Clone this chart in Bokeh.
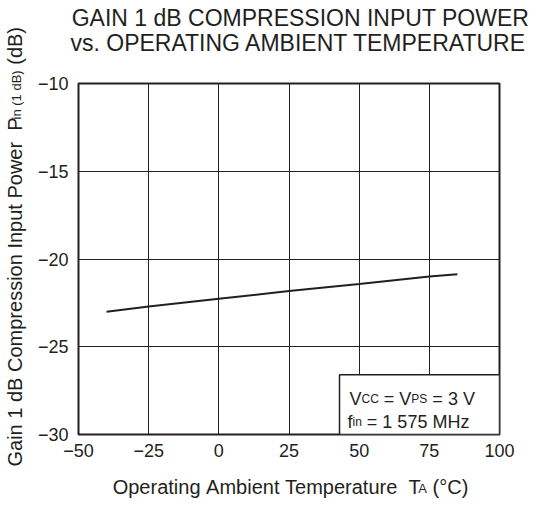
import math
from bokeh.plotting import figure
from bokeh.models import Range1d, Label, FixedTicker, Title
from bokeh.embed import file_html
from bokeh.resources import INLINE

# ---- data ----
temperature_c = [-40, -25, 0, 25, 50, 75, 85]
pin_1db_dbm = [-23.0, -22.7, -22.27, -21.83, -21.43, -21.0, -20.87]
x_ticks = [-50, -25, 0, 25, 50, 75, 100]
y_ticks = [-30, -25, -20, -15, -10]
cond_box_x = [43, 100]
cond_box_y = [-30, -26.6]

FONT = "Liberation Sans"
INK = "#231f20"
NB = "\u00a0"

FL, FR, FT, FB = 78, 499, 83, 434   # frame edges in page pixels
WIDTH, HEIGHT = 536, 506

p = figure(width=WIDTH, height=HEIGHT, output_backend="svg", toolbar_location=None,
           x_range=Range1d(-50, 100), y_range=Range1d(-30, -10),
           min_border_left=FL, min_border_right=WIDTH - FR,
           min_border_top=FT, min_border_bottom=HEIGHT - FB)
p.background_fill_color = "white"
p.border_fill_color = "white"
p.outline_line_color = INK
p.outline_line_width = 2

TICK = 18
for ax, ticks in ((p.xaxis, x_ticks), (p.yaxis, y_ticks)):
    ax.ticker = FixedTicker(ticks=ticks)
    ax.major_label_overrides = {t: str(t).replace("-", "\u2212") for t in ticks}
    ax.axis_line_color = None
    ax.major_tick_line_color = None
    ax.minor_tick_line_color = None
    ax.major_tick_in = 0
    ax.major_tick_out = 0
    ax.major_label_text_font = FONT
    ax.major_label_text_font_size = f"{TICK}px"
    ax.major_label_text_color = INK
p.xaxis.major_label_standoff = 9
p.yaxis.major_label_standoff = 10

p.xgrid.grid_line_color = INK
p.ygrid.grid_line_color = INK
p.xgrid.grid_line_width = 1
p.ygrid.grid_line_width = 1

p.line(temperature_c, pin_1db_dbm, line_width=2, color=INK)

p.quad(left=cond_box_x[0], right=cond_box_x[1], bottom=cond_box_y[0], top=cond_box_y[1],
       fill_color="white", line_color=INK, line_width=1.5)

# ---- text metrics (Arial / Liberation Sans advance widths) ----
W = {' ': 278, NB: 278, '(': 333, ')': 333, '.': 278, '=': 584, '\u2212': 584, '\u00b0': 400,
     'A': 667, 'B': 667, 'C': 722, 'E': 667, 'G': 778, 'H': 722, 'I': 278, 'M': 833,
     'N': 722, 'O': 778, 'P': 667, 'R': 722, 'S': 667, 'T': 611, 'U': 722, 'V': 667,
     'W': 944, 'a': 556, 'b': 556, 'c': 500, 'd': 556, 'e': 556, 'f': 278, 'g': 556,
     'i': 222, 'm': 833, 'n': 556, 'o': 556, 'p': 556, 'r': 333, 's': 500, 't': 278,
     'u': 556, 'v': 500, 'w': 722, 'z': 500, 'k': 500, 'l': 222, 'h': 556, 'y': 500}
for d in "0123456789":
    W[d] = 556


def tw(s, size):
    return sum(W.get(ch, 556) for ch in s) * size / 1000.0


def hgt(size):
    return 1.117 * size


def desc(size):
    return 0.212 * size


# ---- title (two lines in the top panel) ----
TSIZE = 23
t_center = 300
line2, line1 = "vs. OPERATING AMBIENT TEMPERATURE", "GAIN 1 dB COMPRESSION INPUT POWER"
base2, base1 = 51, 26
so2 = 2 * (FT - (base2 + desc(TSIZE)))
size2 = 2 + hgt(TSIZE) + so2
so1 = 2 * ((FT - size2) - (base1 + desc(TSIZE)))
for txt, so in ((line2, so2), (line1, so1)):
    p.add_layout(Title(text=txt, align="left", vertical_align="bottom",
                       offset=t_center - tw(txt, TSIZE) / 2 - FL, standoff=so,
                       text_font=FONT, text_font_size=f"{TSIZE}px",
                       text_font_style="normal", text_color=INK), "above")


# ---- side-panel text runs (zero-thickness titles placed side by side) ----
def spacer(side, thickness, along):
    # blank white dot that only reserves room between the axis and the label run
    p.add_layout(Title(text=".", align="left", vertical_align="bottom", offset=along,
                       standoff=thickness - 2 - hgt(TICK), text_font=FONT,
                       text_font_size=f"{TICK}px", text_color="white"), side)


def piece(side, text, size, start, drop=0.0):
    off = (start - FL) if side == "below" else (FB - start)
    p.add_layout(Title(text=text.replace(" ", NB), align="left", vertical_align="bottom",
                       offset=off, standoff=-(2 + hgt(size)) - 2 * drop,
                       text_font=FONT, text_font_size=f"{size}px",
                       text_font_style="normal", text_color=INK), side)


def text_run(side, pieces, start, sign, kern):
    # kern: correction for the browser's kerning inside the first (long) piece
    big = max(sz for _, sz in pieces)
    pos = start
    placed = []
    for i, (s, sz) in enumerate(pieces):
        placed.append((s, sz, pos))
        pos += sign * (tw(s, sz) + (kern if i == 0 else 0.0))
    # big pieces first, subscript pieces last (their extra drop must not move others)
    for s, sz, at in sorted(placed, key=lambda t: -t[1]):
        piece(side, s, sz, at, drop=0.3465 * (big - sz) + 0.3)


LAB, SUB = 20, 13

# x axis label, below the tick labels
spacer("below", 33, -74)
xl = [("Operating Ambient Temperature  T", LAB), ("A", SUB), (" (\u00b0C)", LAB)]
xtotal = sum(tw(s, z) for s, z in xl) - 4.5
text_run("below", xl, 290 - xtotal / 2, +1, -4.5)

# y axis label, left of the tick labels
spacer("left", 28, -60)
yl = [("Gain 1 dB Compression Input Power  P", LAB), ("in (1 dB)", SUB), (" (dB)", LAB)]
text_run("left", yl, 466, -1, -2.0)


# ---- condition box text (inside the frame) ----
def lab(text, xpage, ypage, size):
    p.add_layout(Label(x=xpage - FL, y=FB - ypage, x_units="screen", y_units="screen",
                       text=text.replace(" ", NB), text_font=FONT, text_font_size=f"{size}px",
                       text_color=INK, text_align="left", text_baseline="alphabetic"))


def run_h(pieces, x0, base):
    x = x0
    for s, sz in pieces:
        lab(s, x, base, sz)
        x += tw(s, sz)


BOX, BSUB = 18, 12
run_h([("V", BOX), ("CC", BSUB), (" = V", BOX), ("PS", BSUB), (" = 3 V", BOX)], 349, 398)
run_h([("f", BOX), ("in", BSUB), (" = 1 575 MHz", BOX)], 347, 421)

open("out.html", "w").write(file_html(p, INLINE))
